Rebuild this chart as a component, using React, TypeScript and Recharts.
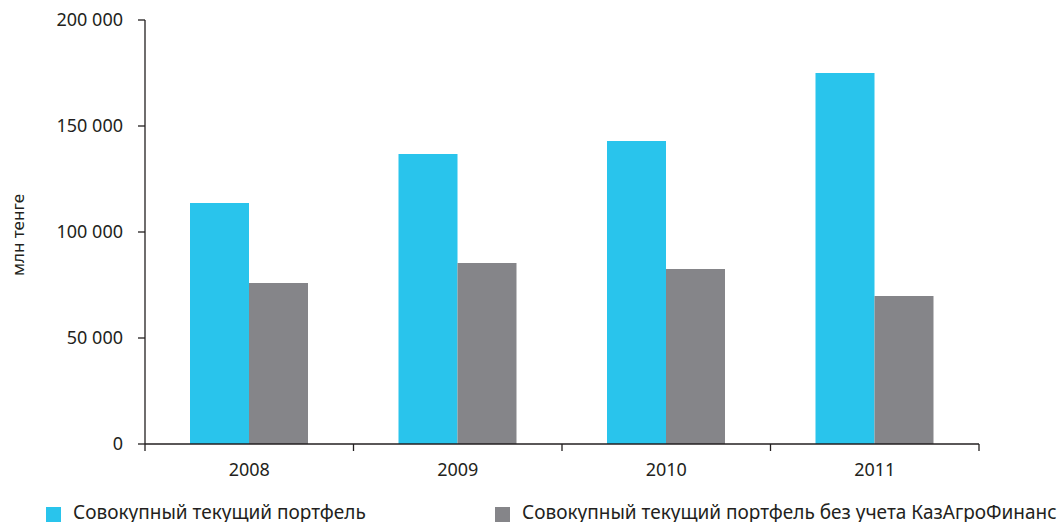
import React from 'react';
import { BarChart, Bar, XAxis, YAxis, Legend } from 'recharts';

const years = ['2008', '2009', '2010', '2011'];
const totalPortfolio = [113700, 136800, 142900, 175000];
const withoutKAF = [75900, 85400, 82500, 69800];
const yTicks = [0, 50000, 100000, 150000, 200000];
const seriesNames = ['Совокупный текущий портфель', 'Совокупный текущий портфель без учета КазАгроФинанс'];

const data = years.map((y, i) => ({ year: y, total: totalPortfolio[i], noKaf: withoutKAF[i] }));

const FONT = '"Noto Sans", sans-serif';
const AXIS = '#231f20';
const legendLefts = [46, 495];

const fmt = (v: number) => {
  if (v === 0) return '0';
  const s = String(v);
  return s.slice(0, s.length - 3) + ' ' + s.slice(s.length - 3);
};

const XTick = (props: any) => {
  const { x, y, payload, index, visibleTicksCount } = props;
  const off = payload.offset || 0;
  return (
    <g>
      <line x1={x - off} x2={x - off} y1={y - 8} y2={y - 1} stroke={AXIS} strokeWidth={1.3} />
      {index === visibleTicksCount - 1 && (
        <line x1={x + off} x2={x + off} y1={y - 8} y2={y - 1} stroke={AXIS} strokeWidth={1.3} />
      )}
      <text x={x} y={y + 24} textAnchor="middle" fontFamily={FONT} fontSize={18} fill="#231f20">
        {payload.value}
      </text>
    </g>
  );
};

const YLabel = (props: any) => {
  const vb = props.viewBox || { x: 0, y: 20, width: 145, height: 424 };
  const cx = 24;
  const cy = vb.y + vb.height / 2 + 3;
  return (
    <text x={cx} y={cy} transform={`rotate(-90 ${cx} ${cy})`} textAnchor="middle" fontFamily={FONT} fontSize={17} fill="#231f20">
      млн тенге
    </text>
  );
};

const LegendContent = (props: any) => {
  const { payload } = props;
  return (
    <div style={{ position: 'relative', width: 1057, height: 40 }}>
      {(payload || []).map((p: any, i: number) => (
        <div key={i} style={{ position: 'absolute', left: legendLefts[i], top: 0, whiteSpace: 'nowrap' }}>
          <span style={{ position: 'absolute', left: 0, top: 10, width: 15, height: 15, background: p.color }} />
          <span style={{ position: 'absolute', left: 27, top: 0, fontFamily: FONT, fontSize: 19, lineHeight: '30px', color: '#231f20' }}>
            {p.value}
          </span>
        </div>
      ))}
    </div>
  );
};

export default function App() {
  return (
    <div style={{ position: 'absolute', left: 0, top: 0, width: 1057, height: 522, background: '#fff', overflow: 'hidden' }}>
      <BarChart width={1057} height={522} data={data} margin={{ top: 20, right: 78, left: 0, bottom: 0 }} barGap={0} barSize={59}>
        <XAxis
          dataKey="year"
          height={78}
          axisLine={{ stroke: AXIS, strokeWidth: 1.3 }}
          tickLine={false}
          tick={<XTick />}
          interval={0}
        />
        <YAxis
          width={145}
          domain={[0, 200000]}
          ticks={yTicks}
          tickFormatter={fmt}
          axisLine={{ stroke: AXIS, strokeWidth: 1.3 }}
          tickLine={{ stroke: AXIS, strokeWidth: 1.3 }}
          tickSize={7}
          tickMargin={15}
          tick={{ fontFamily: FONT, fontSize: 18, fill: '#231f20' }}
          label={<YLabel />}
        />
        <Legend
          layout="horizontal"
          verticalAlign="middle"
          align="center"
          wrapperStyle={{ position: 'absolute', left: 0, top: 497, width: 1057 }}
          content={<LegendContent />}
        />
        <Bar dataKey="total" name={seriesNames[0]} fill="#29c4ec" isAnimationActive={false} />
        <Bar dataKey="noKaf" name={seriesNames[1]} fill="#858589" isAnimationActive={false} />
      </BarChart>
    </div>
  );
}
